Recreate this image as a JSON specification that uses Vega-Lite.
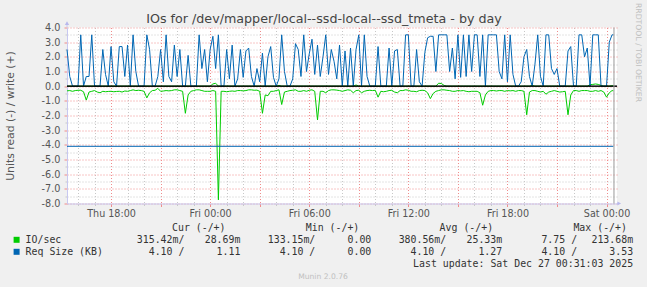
{
"$schema":"https://vega.github.io/schema/vega-lite/v6.json",
"width":550,"height":176,"autosize":"none",
"padding":{"left":67,"top":27.5,"right":30,"bottom":83.5},
"background":"#f0f0f0",
"config":{"view":{"fill":"#ffffff","stroke":null},"font":"DejaVu Sans"},
"title":{"text":"IOs for /dev/mapper/local--ssd-local--ssd_tmeta - by day","font":"DejaVu Sans","fontSize":12.7,"fontWeight":"normal","color":"#444444","anchor":"middle","frame":"group","dx":-18,"offset":-23.5},
"datasets":{
"s":[
{"t":"2025-12-25T15:20Z","b":2.5,"g":-0.32,"w":0},
{"t":"2025-12-25T15:30Z","b":0.66,"g":-0.3,"w":0},
{"t":"2025-12-25T15:40Z","b":0,"g":-0.35,"w":0},
{"t":"2025-12-25T15:50Z","b":0,"g":-0.3,"w":0},
{"t":"2025-12-25T16:00Z","b":0,"g":-0.28,"w":0},
{"t":"2025-12-25T16:10Z","b":3.5,"g":-0.28,"w":0},
{"t":"2025-12-25T16:20Z","b":0,"g":-0.38,"w":0},
{"t":"2025-12-25T16:30Z","b":0.66,"g":-0.95,"w":0},
{"t":"2025-12-25T16:40Z","b":0.66,"g":-0.4,"w":0},
{"t":"2025-12-25T16:50Z","b":3.5,"g":-0.35,"w":0},
{"t":"2025-12-25T17:00Z","b":0,"g":-0.3,"w":0},
{"t":"2025-12-25T17:10Z","b":0,"g":-0.4,"w":0},
{"t":"2025-12-25T17:20Z","b":0,"g":-0.45,"w":0},
{"t":"2025-12-25T17:30Z","b":2.5,"g":-0.35,"w":0},
{"t":"2025-12-25T17:40Z","b":0.8,"g":-0.38,"w":0},
{"t":"2025-12-25T17:50Z","b":0,"g":-0.36,"w":0},
{"t":"2025-12-25T18:00Z","b":2.7,"g":-0.35,"w":0},
{"t":"2025-12-25T18:10Z","b":0.3,"g":-0.38,"w":0},
{"t":"2025-12-25T18:20Z","b":0,"g":-0.36,"w":0},
{"t":"2025-12-25T18:30Z","b":2.7,"g":-0.35,"w":0},
{"t":"2025-12-25T18:40Z","b":2.7,"g":-0.4,"w":0},
{"t":"2025-12-25T18:50Z","b":0.66,"g":-0.33,"w":0},
{"t":"2025-12-25T19:00Z","b":2.8,"g":-0.35,"w":0},
{"t":"2025-12-25T19:10Z","b":0,"g":-0.3,"w":0},
{"t":"2025-12-25T19:20Z","b":3.5,"g":-0.25,"w":0},
{"t":"2025-12-25T19:30Z","b":1.0,"g":-0.3,"w":0},
{"t":"2025-12-25T19:40Z","b":0,"g":-0.28,"w":0},
{"t":"2025-12-25T19:50Z","b":0,"g":-0.3,"w":0},
{"t":"2025-12-25T20:00Z","b":0,"g":-0.35,"w":0},
{"t":"2025-12-25T20:10Z","b":3.5,"g":-0.8,"w":0},
{"t":"2025-12-25T20:20Z","b":2.5,"g":-0.45,"w":0},
{"t":"2025-12-25T20:30Z","b":0,"g":-0.3,"w":0},
{"t":"2025-12-25T20:40Z","b":0,"g":-0.28,"w":0},
{"t":"2025-12-25T20:50Z","b":0.66,"g":-0.15,"w":0},
{"t":"2025-12-25T21:00Z","b":2.5,"g":-0.35,"w":0},
{"t":"2025-12-25T21:10Z","b":0.3,"g":-0.33,"w":0},
{"t":"2025-12-25T21:20Z","b":3.5,"g":-0.3,"w":0},
{"t":"2025-12-25T21:30Z","b":0.66,"g":-0.32,"w":0},
{"t":"2025-12-25T21:40Z","b":0.3,"g":-0.3,"w":0},
{"t":"2025-12-25T21:50Z","b":2.8,"g":-0.25,"w":0},
{"t":"2025-12-25T22:00Z","b":0.66,"g":-0.25,"w":0},
{"t":"2025-12-25T22:10Z","b":2.5,"g":-0.3,"w":0},
{"t":"2025-12-25T22:20Z","b":0,"g":-0.35,"w":0},
{"t":"2025-12-25T22:30Z","b":0,"g":-1.85,"w":0},
{"t":"2025-12-25T22:40Z","b":2.1,"g":-0.6,"w":0},
{"t":"2025-12-25T22:50Z","b":0,"g":-0.35,"w":0},
{"t":"2025-12-25T23:00Z","b":0,"g":-0.3,"w":0},
{"t":"2025-12-25T23:10Z","b":0,"g":-0.25,"w":0},
{"t":"2025-12-25T23:20Z","b":3.5,"g":-0.25,"w":0},
{"t":"2025-12-25T23:30Z","b":1.2,"g":-0.3,"w":0},
{"t":"2025-12-25T23:40Z","b":2.5,"g":-0.35,"w":0},
{"t":"2025-12-25T23:50Z","b":0.3,"g":-0.35,"w":0},
{"t":"2025-12-26T00:00Z","b":2.5,"g":-0.35,"w":0},
{"t":"2025-12-26T00:10Z","b":3.4,"g":-0.3,"w":0.15},
{"t":"2025-12-26T00:20Z","b":1.2,"g":-0.35,"w":0.2},
{"t":"2025-12-26T00:30Z","b":3.5,"g":-7.75,"w":0},
{"t":"2025-12-26T00:40Z","b":0,"g":-0.35,"w":0},
{"t":"2025-12-26T00:50Z","b":0,"g":-0.35,"w":0},
{"t":"2025-12-26T01:00Z","b":2.5,"g":-0.38,"w":0},
{"t":"2025-12-26T01:10Z","b":0.5,"g":-0.35,"w":0},
{"t":"2025-12-26T01:20Z","b":2.8,"g":-0.33,"w":0},
{"t":"2025-12-26T01:30Z","b":0,"g":-0.35,"w":0},
{"t":"2025-12-26T01:40Z","b":0.5,"g":-0.3,"w":0},
{"t":"2025-12-26T01:50Z","b":2.5,"g":-0.3,"w":0},
{"t":"2025-12-26T02:00Z","b":0.6,"g":-0.32,"w":0},
{"t":"2025-12-26T02:10Z","b":2.4,"g":-0.3,"w":0},
{"t":"2025-12-26T02:20Z","b":2.6,"g":-0.25,"w":0},
{"t":"2025-12-26T02:30Z","b":0.66,"g":-0.25,"w":0},
{"t":"2025-12-26T02:40Z","b":0,"g":-0.28,"w":0},
{"t":"2025-12-26T02:50Z","b":1.2,"g":-0.27,"w":0},
{"t":"2025-12-26T03:00Z","b":0.3,"g":-0.35,"w":0},
{"t":"2025-12-26T03:10Z","b":2.25,"g":-1.85,"w":0},
{"t":"2025-12-26T03:20Z","b":0,"g":-0.6,"w":0},
{"t":"2025-12-26T03:30Z","b":2.0,"g":-0.65,"w":0},
{"t":"2025-12-26T03:40Z","b":2.7,"g":-0.35,"w":0},
{"t":"2025-12-26T03:50Z","b":0.6,"g":-0.35,"w":0},
{"t":"2025-12-26T04:00Z","b":0,"g":-0.3,"w":0},
{"t":"2025-12-26T04:10Z","b":0.5,"g":-0.25,"w":0.05},
{"t":"2025-12-26T04:20Z","b":3.5,"g":-1.25,"w":0},
{"t":"2025-12-26T04:30Z","b":1.0,"g":-0.4,"w":0},
{"t":"2025-12-26T04:40Z","b":0,"g":-0.35,"w":0},
{"t":"2025-12-26T04:50Z","b":0,"g":-0.3,"w":0},
{"t":"2025-12-26T05:00Z","b":0.5,"g":-0.28,"w":0},
{"t":"2025-12-26T05:10Z","b":2.9,"g":-0.25,"w":0},
{"t":"2025-12-26T05:20Z","b":2.5,"g":-0.35,"w":0},
{"t":"2025-12-26T05:30Z","b":0.66,"g":-0.35,"w":0},
{"t":"2025-12-26T05:40Z","b":3.5,"g":-0.3,"w":0},
{"t":"2025-12-26T05:50Z","b":1.0,"g":-0.35,"w":0},
{"t":"2025-12-26T06:00Z","b":2.2,"g":-0.28,"w":0},
{"t":"2025-12-26T06:10Z","b":3.2,"g":-0.25,"w":0},
{"t":"2025-12-26T06:20Z","b":0.8,"g":-0.35,"w":0},
{"t":"2025-12-26T06:30Z","b":2.8,"g":-2.3,"w":0},
{"t":"2025-12-26T06:40Z","b":0.66,"g":-0.35,"w":0},
{"t":"2025-12-26T06:50Z","b":2.0,"g":-0.35,"w":0},
{"t":"2025-12-26T07:00Z","b":3.5,"g":-0.45,"w":0},
{"t":"2025-12-26T07:10Z","b":0.8,"g":-0.3,"w":0},
{"t":"2025-12-26T07:20Z","b":2.5,"g":-0.25,"w":0},
{"t":"2025-12-26T07:30Z","b":1.7,"g":-0.25,"w":0},
{"t":"2025-12-26T07:40Z","b":0.5,"g":-0.27,"w":0},
{"t":"2025-12-26T07:50Z","b":2.8,"g":-0.3,"w":0},
{"t":"2025-12-26T08:00Z","b":0,"g":-0.35,"w":0},
{"t":"2025-12-26T08:10Z","b":2.4,"g":-0.3,"w":0},
{"t":"2025-12-26T08:20Z","b":0,"g":-0.25,"w":0},
{"t":"2025-12-26T08:30Z","b":2.6,"g":-0.28,"w":0},
{"t":"2025-12-26T08:40Z","b":0,"g":-0.45,"w":0},
{"t":"2025-12-26T08:50Z","b":2.5,"g":-0.3,"w":0.08},
{"t":"2025-12-26T09:00Z","b":3.5,"g":-0.28,"w":0},
{"t":"2025-12-26T09:10Z","b":0,"g":-0.45,"w":0},
{"t":"2025-12-26T09:20Z","b":3.5,"g":-0.35,"w":0},
{"t":"2025-12-26T09:30Z","b":0.66,"g":-0.3,"w":0},
{"t":"2025-12-26T09:40Z","b":0,"g":-0.28,"w":0},
{"t":"2025-12-26T09:50Z","b":0,"g":-0.3,"w":0},
{"t":"2025-12-26T10:00Z","b":0,"g":-0.28,"w":0},
{"t":"2025-12-26T10:10Z","b":2.7,"g":-0.75,"w":0},
{"t":"2025-12-26T10:20Z","b":0,"g":-0.35,"w":0},
{"t":"2025-12-26T10:30Z","b":0,"g":-0.38,"w":0},
{"t":"2025-12-26T10:40Z","b":0,"g":-0.35,"w":0},
{"t":"2025-12-26T10:50Z","b":2.6,"g":-0.3,"w":0},
{"t":"2025-12-26T11:00Z","b":0,"g":-0.28,"w":0},
{"t":"2025-12-26T11:10Z","b":2.4,"g":-0.4,"w":0},
{"t":"2025-12-26T11:20Z","b":2.5,"g":-0.45,"w":0},
{"t":"2025-12-26T11:30Z","b":0,"g":-0.3,"w":0},
{"t":"2025-12-26T11:40Z","b":0,"g":-0.3,"w":0},
{"t":"2025-12-26T11:50Z","b":3.5,"g":-0.25,"w":0},
{"t":"2025-12-26T12:00Z","b":3.5,"g":-0.28,"w":0},
{"t":"2025-12-26T12:10Z","b":0,"g":-0.35,"w":0},
{"t":"2025-12-26T12:20Z","b":0,"g":-0.35,"w":0},
{"t":"2025-12-26T12:30Z","b":2.5,"g":-0.38,"w":0},
{"t":"2025-12-26T12:40Z","b":0.3,"g":-0.3,"w":0},
{"t":"2025-12-26T12:50Z","b":0,"g":-0.28,"w":0},
{"t":"2025-12-26T13:00Z","b":2.3,"g":-0.3,"w":0},
{"t":"2025-12-26T13:10Z","b":3.3,"g":-0.45,"w":0},
{"t":"2025-12-26T13:20Z","b":3.4,"g":-0.85,"w":0},
{"t":"2025-12-26T13:30Z","b":3.4,"g":-0.5,"w":0},
{"t":"2025-12-26T13:40Z","b":1.0,"g":-0.35,"w":0},
{"t":"2025-12-26T13:50Z","b":3.5,"g":-0.3,"w":0.2},
{"t":"2025-12-26T14:00Z","b":3.5,"g":-0.25,"w":0.18},
{"t":"2025-12-26T14:10Z","b":3.5,"g":-0.25,"w":0.05},
{"t":"2025-12-26T14:20Z","b":3.5,"g":-0.28,"w":0},
{"t":"2025-12-26T14:30Z","b":1.0,"g":-0.3,"w":0},
{"t":"2025-12-26T14:40Z","b":2.6,"g":-0.35,"w":0},
{"t":"2025-12-26T14:50Z","b":0.5,"g":-0.35,"w":0},
{"t":"2025-12-26T15:00Z","b":3.5,"g":-0.3,"w":0},
{"t":"2025-12-26T15:10Z","b":0.6,"g":-0.32,"w":0},
{"t":"2025-12-26T15:20Z","b":3.5,"g":-0.3,"w":0},
{"t":"2025-12-26T15:30Z","b":0.66,"g":-0.35,"w":0},
{"t":"2025-12-26T15:40Z","b":3.5,"g":-0.38,"w":0},
{"t":"2025-12-26T15:50Z","b":1.0,"g":-0.35,"w":0},
{"t":"2025-12-26T16:00Z","b":3.5,"g":-0.35,"w":0},
{"t":"2025-12-26T16:10Z","b":3.5,"g":-0.35,"w":0},
{"t":"2025-12-26T16:20Z","b":0.66,"g":-0.45,"w":0},
{"t":"2025-12-26T16:30Z","b":3.5,"g":-1.3,"w":0},
{"t":"2025-12-26T16:40Z","b":0,"g":-0.6,"w":0},
{"t":"2025-12-26T16:50Z","b":3.5,"g":-0.35,"w":0},
{"t":"2025-12-26T17:00Z","b":3.5,"g":-0.3,"w":0},
{"t":"2025-12-26T17:10Z","b":3.5,"g":-0.3,"w":0},
{"t":"2025-12-26T17:20Z","b":3.5,"g":-0.33,"w":0},
{"t":"2025-12-26T17:30Z","b":1.0,"g":-0.3,"w":0},
{"t":"2025-12-26T17:40Z","b":0.5,"g":-0.3,"w":0},
{"t":"2025-12-26T17:50Z","b":3.5,"g":-0.35,"w":0},
{"t":"2025-12-26T18:00Z","b":0.3,"g":-0.3,"w":0},
{"t":"2025-12-26T18:10Z","b":3.5,"g":-0.32,"w":0},
{"t":"2025-12-26T18:20Z","b":0.8,"g":-0.3,"w":0},
{"t":"2025-12-26T18:30Z","b":0,"g":-0.35,"w":0},
{"t":"2025-12-26T18:40Z","b":0,"g":-0.3,"w":0},
{"t":"2025-12-26T18:50Z","b":0.3,"g":-0.3,"w":0},
{"t":"2025-12-26T19:00Z","b":2.0,"g":-0.35,"w":0},
{"t":"2025-12-26T19:10Z","b":2.5,"g":-1.95,"w":0},
{"t":"2025-12-26T19:20Z","b":0.66,"g":-0.4,"w":0},
{"t":"2025-12-26T19:30Z","b":0,"g":-0.3,"w":0.06},
{"t":"2025-12-26T19:40Z","b":1.5,"g":-0.3,"w":0},
{"t":"2025-12-26T19:50Z","b":3.5,"g":-0.35,"w":0},
{"t":"2025-12-26T20:00Z","b":0.66,"g":-0.4,"w":0},
{"t":"2025-12-26T20:10Z","b":0,"g":-0.35,"w":0},
{"t":"2025-12-26T20:20Z","b":3.5,"g":-0.55,"w":0},
{"t":"2025-12-26T20:30Z","b":3.5,"g":-0.4,"w":0},
{"t":"2025-12-26T20:40Z","b":1.2,"g":-0.35,"w":0},
{"t":"2025-12-26T20:50Z","b":0.8,"g":-0.3,"w":0},
{"t":"2025-12-26T21:00Z","b":1.2,"g":-0.35,"w":0},
{"t":"2025-12-26T21:10Z","b":0,"g":-0.4,"w":0},
{"t":"2025-12-26T21:20Z","b":0,"g":-0.38,"w":0},
{"t":"2025-12-26T21:30Z","b":0,"g":-0.35,"w":0},
{"t":"2025-12-26T21:40Z","b":2.4,"g":-1.95,"w":0},
{"t":"2025-12-26T21:50Z","b":2.7,"g":-0.6,"w":0},
{"t":"2025-12-26T22:00Z","b":0,"g":-0.3,"w":0},
{"t":"2025-12-26T22:10Z","b":0,"g":-0.3,"w":0},
{"t":"2025-12-26T22:20Z","b":3.5,"g":-0.35,"w":0},
{"t":"2025-12-26T22:30Z","b":3.5,"g":-0.3,"w":0},
{"t":"2025-12-26T22:40Z","b":2.0,"g":-0.3,"w":0},
{"t":"2025-12-26T22:50Z","b":2.6,"g":-0.3,"w":0},
{"t":"2025-12-26T23:00Z","b":0,"g":-0.35,"w":0.1},
{"t":"2025-12-26T23:10Z","b":3.5,"g":-0.35,"w":0.12},
{"t":"2025-12-26T23:20Z","b":3.5,"g":-0.3,"w":0.15},
{"t":"2025-12-26T23:30Z","b":3.5,"g":-0.35,"w":0.12},
{"t":"2025-12-26T23:40Z","b":0,"g":-0.3,"w":0.05},
{"t":"2025-12-26T23:50Z","b":0,"g":-0.4,"w":0},
{"t":"2025-12-27T00:00Z","b":0,"g":-0.75,"w":0},
{"t":"2025-12-27T00:10Z","b":3.0,"g":-0.45,"w":0},
{"t":"2025-12-27T00:20Z","b":3.5,"g":-0.3,"w":0.03},
{"t":"2025-12-27T00:25Z","b":3.5,"g":-0.32,"w":0.03}
],
"rd":[{"t":"2025-12-25T15:20Z","v":-4.1},{"t":"2025-12-27T00:25Z","v":-4.1}],
"vr":[{"t":"2025-12-27T00:27Z"}],
"ay":[{"t":"2025-12-25T15:20Z","y":4,"y2":4.3}],
"ax":[{"t":"2025-12-27T00:38Z","t2":"2025-12-27T00:46Z","y":-8}],
"lg":[
{"s":0,"h":"Cur (-/+)","io":"315.42m/","iow":"28.69m","rq":"4.10 /","rqw":"1.11\u00a0"},
{"s":1,"h":"Min (-/+)","io":"133.15m/","iow":"0.00\u00a0","rq":"4.10 /","rqw":"0.00\u00a0"},
{"s":2,"h":"Avg (-/+)","io":"380.56m/","iow":"25.33m","rq":"4.10 /","rqw":"1.27\u00a0"},
{"s":3,"h":"Max (-/+)","io":"7.75 /","iow":"213.68m","rq":"4.10 /","rqw":"3.53\u00a0"}
],
"ll":[{"n":"IO/sec","r":1,"c":"io"},{"n":"Req Size (KB)","r":2,"c":"rq"}],
"lu":[{"u":"Last update: Sat Dec 27 00:31:03 2025"}],
"mu":[{"m":"Munin 2.0.76"}]
},
"layer":[
{"data":{"name":"s"},"mark":{"type":"line","color":"#00cc00","strokeWidth":1},
"encoding":{
"x":{"field":"t","type":"temporal","scale":{"type":"utc","domain":[1766676000000,1766795880000]},
"axis":{"orient":"bottom","grid":true,"gridColor":"#c8c8c8","gridDash":[1,2],"gridWidth":1,"values":[1766678400000,1766682000000,1766685600000,1766689200000,1766692800000,1766696400000,1766700000000,1766703600000,1766707200000,1766710800000,1766714400000,1766718000000,1766721600000,1766725200000,1766728800000,1766732400000,1766736000000,1766739600000,1766743200000,1766746800000,1766750400000,1766754000000,1766757600000,1766761200000,1766764800000,1766768400000,1766772000000,1766775600000,1766779200000,1766782800000,1766786400000,1766790000000,1766793600000],"labels":false,"ticks":true,"tickColor":"#c8c8c8","tickSize":2,"domain":false,"title":null}},
"y":{"field":"w","type":"quantitative","scale":{"domain":[-8,4],"nice":false,"zero":false},
"axis":{"orient":"left","grid":true,"gridColor":"#c8c8c8","gridDash":[1,2],"gridWidth":1,"values":[-7.5,-6.5,-5.5,-4.5,-3.5,-2.5,-1.5,-0.5,0.5,1.5,2.5,3.5],"labels":false,"ticks":true,"tickColor":"#c8c8c8","tickSize":2,"domain":false,"title":null}}
}},
{"data":{"name":"s"},"mark":{"type":"line","color":"#00cc00","strokeWidth":1},
"encoding":{
"x":{"field":"t","type":"temporal","scale":{"type":"utc","domain":[1766676000000,1766795880000]},
"axis":{"orient":"bottom","grid":true,"gridColor":"#f08c8c","gridDash":[1,2],"gridWidth":1,"values":[1766685600000,1766696400000,1766707200000,1766718000000,1766728800000,1766739600000,1766750400000,1766761200000,1766772000000,1766782800000,1766793600000],"labels":false,"ticks":true,"tickColor":"#f08c8c","tickSize":3,"domain":false,"title":null}},
"y":{"field":"g","type":"quantitative","scale":{"domain":[-8,4],"nice":false,"zero":false},
"axis":{"orient":"left","grid":true,"gridColor":"#f08c8c","gridDash":[1,2],"gridWidth":1,"values":[-8,-7,-6,-5,-4,-3,-2,-1,0,1,2,3,4],"labelExpr":"(datum.value < 0 ? '-' : '') + format(abs(datum.value), '.1f')","labelFont":"DejaVu Sans","labelFontSize":9.7,"labelColor":"#555555","labelPadding":4,"ticks":true,"tickColor":"#f08c8c","tickSize":3,"domain":true,"domainColor":"#c8c8f0","domainWidth":1,
"title":"Units read (-) / write (+)","titleFont":"DejaVu Sans","titleFontSize":10.8,"titleFontWeight":"normal","titleColor":"#555555","titleAngle":270,"titleAlign":"center","titleBaseline":"middle","titleX":-56.5,"titleY":88}}
}},
{"data":{"name":"s"},"mark":{"type":"line","color":"#0066b3","strokeWidth":1},
"encoding":{
"x":{"field":"t","type":"temporal","scale":{"type":"utc","domain":[1766676000000,1766795880000]},
"axis":{"orient":"bottom","grid":false,"values":[1766685600000,1766707200000,1766728800000,1766750400000,1766772000000,1766793600000],"labelExpr":"utcFormat(datum.value, '%a %H:%M')","labelFont":"DejaVu Sans","labelFontSize":9.6,"labelColor":"#555555","labelPadding":2,"labelFlush":false,"labelOverlap":false,"ticks":true,"tickColor":"#f08c8c","tickSize":3,"domain":true,"domainColor":"#c8c8f0","domainWidth":1,"title":null}},
"y":{"field":"b","type":"quantitative","scale":{"domain":[-8,4],"nice":false,"zero":false},"axis":null}
}},
{"data":{"name":"rd"},"mark":{"type":"line","color":"#0066b3","strokeWidth":1},
"encoding":{
"x":{"field":"t","type":"temporal","scale":{"type":"utc","domain":[1766676000000,1766795880000]},"axis":null},
"y":{"field":"v","type":"quantitative","scale":{"domain":[-8,4],"nice":false,"zero":false},
"axis":{"orient":"right","title":"RRDTOOL / TOBI OETIKER","labels":false,"ticks":false,"domain":false,"grid":false,"titleAngle":90,"titleX":20,"titleY":24.5,"titleAlign":"center","titleBaseline":"middle","titleFont":"DejaVu Sans","titleFontSize":7.7,"titleFontWeight":"normal","titleColor":"#c0c0c0"}}
}},
{"data":{"name":"rd"},"mark":{"type":"rule","color":"#000000","strokeWidth":1},
"encoding":{"y":{"datum":0,"type":"quantitative","scale":{"domain":[-8,4],"nice":false,"zero":false},"axis":null}}},
{"data":{"name":"vr"},"mark":{"type":"rule","color":"#9a9a9a","strokeWidth":1},
"encoding":{"x":{"field":"t","type":"temporal","scale":{"type":"utc","domain":[1766676000000,1766795880000]},"axis":null}}},
{"data":{"name":"ay"},"mark":{"type":"rule","color":"#c8c8f0","strokeWidth":1},
"encoding":{"x":{"field":"t","type":"temporal","scale":{"type":"utc","domain":[1766676000000,1766795880000]},"axis":null},
"y":{"field":"y","type":"quantitative","scale":{"domain":[-8,4],"nice":false,"zero":false},"axis":null},"y2":{"field":"y2"}}},
{"data":{"name":"ay"},"mark":{"type":"point","shape":"triangle-up","filled":true,"size":18,"opacity":1,"color":"#b8b8ec"},
"encoding":{"x":{"field":"t","type":"temporal","scale":{"type":"utc","domain":[1766676000000,1766795880000]},"axis":null},
"y":{"field":"y2","type":"quantitative","scale":{"domain":[-8,4],"nice":false,"zero":false},"axis":null}}},
{"data":{"name":"ax"},"mark":{"type":"rule","color":"#c8c8f0","strokeWidth":1},
"encoding":{"x":{"field":"t","type":"temporal","scale":{"type":"utc","domain":[1766676000000,1766795880000]},"axis":null},"x2":{"field":"t2"},
"y":{"field":"y","type":"quantitative","scale":{"domain":[-8,4],"nice":false,"zero":false},"axis":null}}},
{"data":{"name":"ax"},"mark":{"type":"point","shape":"triangle-right","filled":true,"size":18,"opacity":1,"color":"#b8b8ec"},
"encoding":{"x":{"field":"t2","type":"temporal","scale":{"type":"utc","domain":[1766676000000,1766795880000]},"axis":null},
"y":{"field":"y","type":"quantitative","scale":{"domain":[-8,4],"nice":false,"zero":false},"axis":null}}},
{"data":{"name":"lg"},"mark":{"type":"text","align":"left","baseline":"middle","font":"DejaVu Sans Mono","fontSize":9.9,"color":"#333333"},
"encoding":{"x":{"field":"s","type":"quantitative","scale":{"domain":[0,3],"range":[105,506.4],"nice":false,"zero":false},"axis":null},
"y":{"datum":0,"type":"quantitative","scale":{"domain":[0,3],"range":[200.3,236.3],"nice":false,"zero":false},"axis":null},
"text":{"field":"h"}}},
{"data":{"name":"lg"},"mark":{"type":"text","align":"right","baseline":"middle","font":"DejaVu Sans Mono","fontSize":9.9,"color":"#333333"},
"encoding":{"x":{"field":"s","type":"quantitative","scale":{"domain":[0,3],"range":[117.4,510.1],"nice":false,"zero":false},"axis":null},
"y":{"datum":1,"type":"quantitative","scale":{"domain":[0,3],"range":[200.3,236.3],"nice":false,"zero":false},"axis":null},
"text":{"field":"io"}}},
{"data":{"name":"lg"},"mark":{"type":"text","align":"right","baseline":"middle","dx":56,"font":"DejaVu Sans Mono","fontSize":9.9,"color":"#333333"},
"encoding":{"x":{"field":"s","type":"quantitative","scale":{"domain":[0,3],"range":[117.4,510.1],"nice":false,"zero":false},"axis":null},
"y":{"datum":1,"type":"quantitative","scale":{"domain":[0,3],"range":[200.3,236.3],"nice":false,"zero":false},"axis":null},
"text":{"field":"iow"}}},
{"data":{"name":"lg"},"mark":{"type":"text","align":"right","baseline":"middle","font":"DejaVu Sans Mono","fontSize":9.9,"color":"#333333"},
"encoding":{"x":{"field":"s","type":"quantitative","scale":{"domain":[0,3],"range":[117.4,510.1],"nice":false,"zero":false},"axis":null},
"y":{"datum":2,"type":"quantitative","scale":{"domain":[0,3],"range":[200.3,236.3],"nice":false,"zero":false},"axis":null},
"text":{"field":"rq"}}},
{"data":{"name":"lg"},"mark":{"type":"text","align":"right","baseline":"middle","dx":56,"font":"DejaVu Sans Mono","fontSize":9.9,"color":"#333333"},
"encoding":{"x":{"field":"s","type":"quantitative","scale":{"domain":[0,3],"range":[117.4,510.1],"nice":false,"zero":false},"axis":null},
"y":{"datum":2,"type":"quantitative","scale":{"domain":[0,3],"range":[200.3,236.3],"nice":false,"zero":false},"axis":null},
"text":{"field":"rqw"}}},
{"data":{"name":"lu"},"mark":{"type":"text","align":"right","baseline":"middle","dx":56,"font":"DejaVu Sans Mono","fontSize":9.9,"color":"#333333"},
"encoding":{"x":{"datum":3,"type":"quantitative","scale":{"domain":[0,3],"range":[117.4,510.1],"nice":false,"zero":false},"axis":null},
"y":{"datum":3,"type":"quantitative","scale":{"domain":[0,3],"range":[200.3,236.3],"nice":false,"zero":false},"axis":null},
"text":{"field":"u"}}},
{"data":{"name":"ll"},"mark":{"type":"text","align":"left","baseline":"middle","dx":-158.8,"font":"DejaVu Sans Mono","fontSize":9.9,"color":"#333333"},
"encoding":{"x":{"datum":0,"type":"quantitative","scale":{"domain":[0,3],"range":[117.4,510.1],"nice":false,"zero":false},"axis":null},
"y":{"field":"r","type":"quantitative","scale":{"domain":[0,3],"range":[200.3,236.3],"nice":false,"zero":false},"axis":null},
"text":{"field":"n"}}},
{"data":{"name":"ll"},"mark":{"type":"point","shape":"square","filled":true,"size":36,"opacity":1},
"encoding":{"x":{"datum":0,"type":"quantitative","scale":{"domain":[0,1],"range":[-50.4,0],"nice":false,"zero":false},"axis":null},
"y":{"field":"r","type":"quantitative","scale":{"domain":[0,3],"range":[200.3,236.3],"nice":false,"zero":false},"axis":null},
"color":{"field":"c","type":"nominal","scale":{"domain":["io","rq"],"range":["#00cc00","#0066b3"]},"legend":null}}},
{"data":{"name":"mu"},"mark":{"type":"text","align":"center","baseline":"middle","dx":138.6,"dy":1,"font":"DejaVu Sans","fontSize":7.6,"color":"#c0c0c0"},
"encoding":{"x":{"datum":0,"type":"quantitative","scale":{"domain":[0,3],"range":[117.4,510.1],"nice":false,"zero":false},"axis":null},
"y":{"datum":4,"type":"quantitative","scale":{"domain":[0,3],"range":[200.3,236.3],"nice":false,"zero":false},"axis":null},
"text":{"field":"m"}}}
],
"resolve":{"scale":{"x":"independent","y":"independent","color":"independent"},"axis":{"x":"independent","y":"independent"}}
}
